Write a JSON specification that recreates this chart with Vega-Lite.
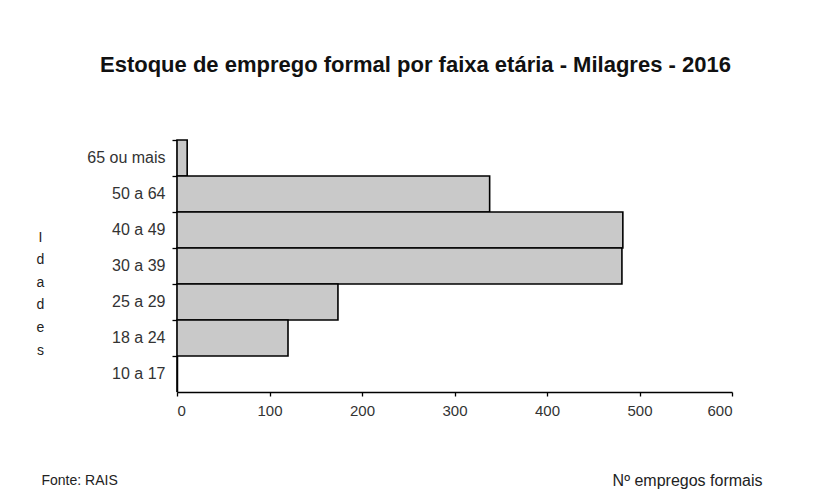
{
  "$schema": "https://vega.github.io/schema/vega-lite/v6.json",
  "width": 555,
  "height": 252,
  "autosize": "none",
  "padding": {"left": 177, "top": 140, "right": 81, "bottom": 109},
  "background": "white",
  "title": {
    "text": "Estoque  de emprego formal por faixa etária - Milagres - 2016",
    "anchor": "start",
    "frame": "group",
    "dx": -77,
    "offset": 62,
    "font": "Liberation Sans",
    "fontSize": 22,
    "fontWeight": "bold",
    "color": "#111111"
  },
  "data": {
    "values": [
      {"faixa": "65 ou mais", "empregos": 11},
      {"faixa": "50 a 64", "empregos": 338},
      {"faixa": "40 a 49", "empregos": 482},
      {"faixa": "30 a 39", "empregos": 481},
      {"faixa": "25 a 29", "empregos": 174},
      {"faixa": "18 a 24", "empregos": 120},
      {"faixa": "10 a 17", "empregos": 0}
    ]
  },
  "layer": [
    {
      "mark": {"type": "bar", "fill": "#c9c9c9", "stroke": "#000000", "strokeWidth": 1.6},
      "encoding": {
        "y": {
          "field": "faixa",
          "type": "nominal",
          "sort": ["65 ou mais", "50 a 64", "40 a 49", "30 a 39", "25 a 29", "18 a 24", "10 a 17"],
          "scale": {"paddingInner": 0, "paddingOuter": 0},
          "axis": {
            "title": ["I", "d", "a", "d", "e", "s"],
            "titleAngle": 0,
            "titleX": -137,
            "titleY": 90,
            "titleAlign": "center",
            "titleBaseline": "top",
            "titleLineHeight": 22.6,
            "titleFont": "Liberation Sans",
            "titleFontSize": 14,
            "titleFontWeight": "normal",
            "titleColor": "#222222",
            "labelFont": "Liberation Sans",
            "labelFontSize": 16,
            "labelColor": "#333333",
            "labelPadding": 7,
            "tickSize": 5,
            "tickColor": "#000000",
            "bandPosition": 0,
            "domainColor": "#000000",
            "domainWidth": 1.5,
            "tickWidth": 1.3
          }
        },
        "x": {
          "field": "empregos",
          "type": "quantitative",
          "scale": {"domain": [0, 600], "nice": false},
          "axis": {
            "values": [0, 100, 200, 300, 400, 500, 600],
            "grid": false,
            "title": "Nº empregos formais",
            "titleX": 585,
            "titleY": 88,
            "titleAlign": "right",
            "titleBaseline": "middle",
            "titleFont": "Liberation Sans",
            "titleFontSize": 16,
            "titleFontWeight": "normal",
            "titleColor": "#222222",
            "labelFont": "Liberation Sans",
            "labelFontSize": 15,
            "labelColor": "#333333",
            "labelPadding": 7,
            "tickSize": 4,
            "tickColor": "#000000",
            "tickWidth": 1.3,
            "domainColor": "#000000",
            "domainWidth": 1.5
          }
        }
      }
    },
    {
      "mark": {"type": "bar", "opacity": 0},
      "encoding": {
        "y": {
          "field": "faixa",
          "type": "nominal",
          "sort": ["65 ou mais", "50 a 64", "40 a 49", "30 a 39", "25 a 29", "18 a 24", "10 a 17"]
        },
        "x": {
          "field": "empregos",
          "type": "quantitative",
          "axis": {
            "orient": "top",
            "labels": false,
            "ticks": false,
            "domain": false,
            "grid": false,
            "title": "Fonte: RAIS",
            "titleX": -136,
            "titleY": 340,
            "titleAlign": "left",
            "titleBaseline": "middle",
            "titleFont": "Liberation Sans",
            "titleFontSize": 14,
            "titleFontWeight": "normal",
            "titleColor": "#222222"
          }
        }
      }
    }
  ],
  "resolve": {"axis": {"x": "independent"}},
  "config": {"view": {"stroke": null}}
}
